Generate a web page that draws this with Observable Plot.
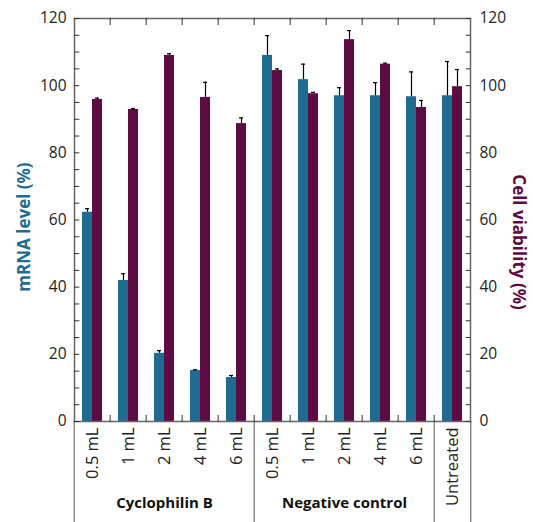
<!DOCTYPE html>
<html><head><meta charset="utf-8">
<script src="https://cdn.jsdelivr.net/npm/d3@7"></script>
<script src="https://cdn.jsdelivr.net/npm/@observablehq/plot@0.6"></script>
<style>body{margin:0;background:#fff}</style>
</head><body><div id="chart"></div>
<script>
// ---- data ----
const groups = ["Cyclophilin B","Cyclophilin B","Cyclophilin B","Cyclophilin B","Cyclophilin B",
  "Negative control","Negative control","Negative control","Negative control","Negative control","Untreated"];
const doses = ["0.5 mL","1 mL","2 mL","4 mL","6 mL","0.5 mL","1 mL","2 mL","4 mL","6 mL","Untreated"];
const mrna = [62.3, 42.0, 20.3, 15.2, 13.1, 109.0, 101.8, 97.0, 97.0, 96.7, 97.0];
const mrnaErr = [1.1, 2.0, 0.8, 0.2, 0.6, 5.9, 4.6, 2.4, 3.9, 7.4, 10.2];
const viability = [95.9, 92.9, 109.0, 96.5, 88.7, 104.5, 97.6, 113.7, 106.4, 93.5, 99.7];
const viabilityErr = [0.4, 0.3, 0.5, 4.5, 1.7, 0.5, 0.4, 2.7, 0.3, 2.1, 5.1];
const seriesNames = ["mRNA level", "Cell viability"];
const axisTitles = ["mRNA level (%)", "Cell viability (%)"];
const majorTicks = [0, 20, 40, 60, 80, 100, 120];
const minorTicks = d3.range(0, 121, 5);

// ---- layout / style ----
const W = 533, H = 522, mL = 70, mR = 60, mT = 18, mB = 101;
const plotH = H - mT - mB;
const fw = (W - mL - mR) / doses.length;
const blue = "#1f6b92", purple = "#5c0c43";
const font = "'Open Sans', sans-serif";

// ---- derived tables ----
const keys = doses.map((d, i) => groups[i] + "|" + d);
const rows = keys.flatMap((k, i) => [
  {key: k, series: seriesNames[0], value: mrna[i], err: mrnaErr[i]},
  {key: k, series: seriesNames[1], value: viability[i], err: viabilityErr[i]}
]);
const groupNames = [...new Set(groups)];
const groupLabels = groupNames
  .map(g => { const ks = keys.filter((k, i) => groups[i] === g); return {label: g, key: ks[Math.floor(ks.length / 2)], n: ks.length}; })
  .filter(d => d.n > 1);
const groupStarts = groupNames.map(g => keys[groups.indexOf(g)]);
const innerBoundaries = keys.slice(1);

const chart = Plot.plot({
  width: W, height: H,
  marginLeft: mL, marginRight: mR, marginTop: mT, marginBottom: mB,
  style: {fontFamily: font, fontSize: "15px", color: "#222", background: "#fff"},
  fx: {domain: keys, padding: 0, axis: null},
  x: {domain: seriesNames, paddingInner: 0, paddingOuter: 0.71, axis: null},
  y: {domain: [0, 120], axis: null},
  color: {domain: seriesNames, range: [blue, purple]},
  marks: [
    Plot.barY(rows, {fx: "key", x: "series", y: "value", fill: "series"}),
    Plot.ruleX(rows, {fx: "key", x: "series", y1: "value", y2: d => d.value + d.err, stroke: "#000", strokeWidth: 1.2}),
    Plot.tickY(rows, {fx: "key", x: "series", y: d => d.value + d.err, stroke: "#000", strokeWidth: 1.2, insetLeft: 3, insetRight: 3}),
    // frame
    Plot.frame({anchor: "top", stroke: "#666", strokeWidth: 1.5}),
    Plot.frame({anchor: "bottom", stroke: "#666", strokeWidth: 1.5}),
    Plot.frame({anchor: "left", stroke: "#666", strokeWidth: 1.5, facetAnchor: "left"}),
    Plot.frame({anchor: "right", stroke: "#666", strokeWidth: 1.5, facetAnchor: "right"}),
    // boundary ticks top and bottom
    Plot.ruleX(innerBoundaries, {fx: d => d, x: null, dx: -fw / 2, insetBottom: plotH - 7, stroke: "#333"}),
    Plot.ruleX(innerBoundaries, {fx: d => d, x: null, dx: -fw / 2, insetTop: plotH - 6, stroke: "#333"}),
    // group separators below
    Plot.ruleX(groupStarts, {fx: d => d, x: null, dx: -fw / 2, insetTop: plotH, insetBottom: -mB, stroke: "#555"}),
    Plot.ruleX([keys[keys.length - 1]], {fx: d => d, x: null, dx: fw / 2, insetTop: plotH, insetBottom: -mB, stroke: "#555"}),
    // y ticks inward
    Plot.tickY(minorTicks, {y: d => d, facetAnchor: "left", insetRight: fw - 6, stroke: "#333"}),
    Plot.tickY(minorTicks, {y: d => d, facetAnchor: "right", insetLeft: fw - 5, stroke: "#333"}),
    Plot.axisY({anchor: "left", ticks: majorTicks, tickSize: 0, tickPadding: 8, label: null, fontSize: 15.5, fill: "#222"}),
    Plot.axisY({anchor: "right", ticks: majorTicks, tickSize: 0, tickPadding: 9, label: null, fontSize: 15.5, fill: "#222"}),
    // category labels
    Plot.axisFx({anchor: "bottom", tickSize: 0, tickPadding: 6, tickRotate: -90, label: null, fontSize: 16.5, fill: "#222",
      tickFormat: k => doses[keys.indexOf(k)]}),
    // group labels
    Plot.text(groupLabels, {fx: "key", text: "label", frameAnchor: "bottom", dy: 86, fontWeight: "bold", fontSize: 15, fill: "#111"}),
    // axis titles
    Plot.text([axisTitles[0]], {frameAnchor: "left", facetAnchor: "left", textAnchor: "middle", rotate: -90, dx: -50, dy: 7,
      fontWeight: "bold", fontSize: 17, fill: blue}),
    Plot.text([axisTitles[1]], {frameAnchor: "right", facetAnchor: "right", textAnchor: "middle", rotate: 90, dx: 48, dy: 22,
      fontWeight: "bold", fontSize: 17, fill: purple})
  ]
});
document.getElementById("chart").appendChild(chart);
</script>
</body></html>
